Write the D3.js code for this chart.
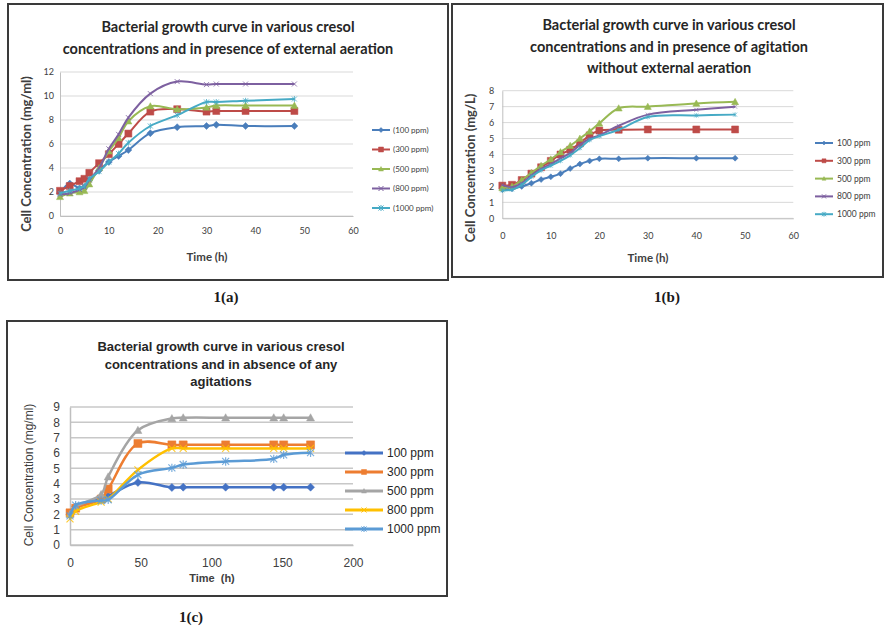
<!DOCTYPE html>
<html>
<head>
<meta charset="utf-8">
<script src="https://cdn.jsdelivr.net/npm/d3@7"></script>
<style>
  html, body { margin: 0; padding: 0; background: #fff; }
  svg { display: block; }
</style>
</head>
<body>
<svg id="fig" width="884" height="629"></svg>
<script>
// ---- Series labels ----
const seriesNamesAB = ["(100 ppm)", "(300 ppm)", "(500 ppm)", "(800 ppm)", "(1000 ppm)"];
const seriesNamesB = ["100 ppm", "300 ppm", "500 ppm", "800 ppm", "1000 ppm"];
const seriesNamesC = ["100 ppm", "300 ppm", "500 ppm", "800 ppm", "1000 ppm"];

// ---- 1(a): external aeration ----
const timeA = [0, 2, 4, 5, 6, 8, 10, 12, 14, 18.5, 24, 30, 32, 38, 48];
const a100 = [1.9, 2.7, 2.3, 2.4, 3.0, 3.8, 4.5, 5.0, 5.5, 6.9, 7.4, 7.5, 7.6, 7.5, 7.5];
const a300 = [2.1, 2.5, 2.9, 3.1, 3.6, 4.4, 5.15, 6.0, 6.87, 8.7, 8.9, 8.7, 8.75, 8.75, 8.75];
const a500 = [1.6, 1.9, 2.0, 2.1, 2.66, 4.0, 5.4, 6.5, 7.9, 9.15, 8.9, 9.05, 9.2, 9.2, 9.2];
const a800 = [1.8, 1.9, 2.2, 2.4, 3.0, 4.0, 5.6, 6.8, 8.2, 10.2, 11.2, 10.95, 11.0, 11.0, 11.0];
const a1000 = [1.9, 2.1, 2.3, 2.5, 3.1, 3.7, 4.5, 5.2, 6.1, 7.5, 8.4, 9.5, 9.5, 9.6, 9.75];
const yTicksA = [0, 2, 4, 6, 8, 10, 12];
const xTicksA = [0, 10, 20, 30, 40, 50, 60];

// ---- 1(b): agitation without external aeration ----
const timeB = [0, 2, 4, 6, 8, 10, 12, 14, 16, 18, 20, 24, 30, 40, 48];
const b100 = [1.8, 1.85, 2.0, 2.2, 2.43, 2.6, 2.8, 3.12, 3.4, 3.6, 3.73, 3.73, 3.77, 3.77, 3.77];
const b300 = [2.05, 2.1, 2.4, 2.8, 3.2, 3.6, 4.0, 4.3, 4.7, 5.2, 5.5, 5.55, 5.57, 5.57, 5.57];
const b500 = [1.9, 2.0, 2.4, 2.85, 3.3, 3.7, 4.15, 4.55, 5.0, 5.45, 5.95, 6.9, 7.0, 7.2, 7.3];
const b800 = [2.1, 1.95, 2.2, 2.7, 3.1, 3.4, 3.75, 4.1, 4.6, 5.0, 5.2, 5.8, 6.5, 6.8, 7.0];
const b1000 = [1.75, 1.8, 2.1, 2.6, 3.0, 3.3, 3.6, 3.95, 4.4, 4.9, 5.15, 5.55, 6.35, 6.45, 6.5];
const yTicksB = [0, 1, 2, 3, 4, 5, 6, 7, 8];
const xTicksB = [0, 10, 20, 30, 40, 50, 60];

// ---- 1(c): no agitation ----
const timeC = [0, 4, 22, 27, 48, 72, 80, 110, 144, 151, 170];
const c100 = [2.0, 2.5, 3.0, 3.2, 4.08, 3.75, 3.77, 3.77, 3.77, 3.77, 3.77];
const c300 = [2.1, 2.4, 3.0, 3.65, 6.62, 6.53, 6.53, 6.53, 6.53, 6.53, 6.53];
const c500 = [2.0, 2.5, 3.3, 4.45, 7.48, 8.25, 8.3, 8.3, 8.3, 8.3, 8.3];
const c800 = [1.7, 2.2, 2.8, 3.0, 4.9, 6.3, 6.3, 6.3, 6.3, 6.3, 6.3];
const c1000 = [1.9, 2.6, 2.9, 2.95, 4.58, 5.03, 5.25, 5.45, 5.62, 5.88, 6.02];
const yTicksC = [0, 1, 2, 3, 4, 5, 6, 7, 8, 9];
const xTicksC = [0, 50, 100, 150, 200];

const svg = d3.select("#fig");

const paletteOld = ["#4A7EBB", "#BE4B48", "#98B954", "#7D60A0", "#46AAC5"];
const paletteNew = ["#4472C4", "#ED7D31", "#A5A5A5", "#FFC000", "#5B9BD5"];
const shapes = ["diamond", "square", "triangle", "x", "star"];

function symbolPath(shape, size) {
  const s = size / 2;
  switch (shape) {
    case "diamond": return `M0,${-s}L${s},0L0,${s}L${-s},0Z`;
    case "square": return `M${-s},${-s}H${s}V${s}H${-s}Z`;
    case "triangle": return `M0,${-s}L${s},${s * 0.8}L${-s},${s * 0.8}Z`;
    case "x": return `M${-s},${-s}L${s},${s}M${-s},${s}L${s},${-s}`;
    case "star": return `M${-s},${-s}L${s},${s}M${-s},${s}L${s},${-s}M0,${-s * 1.2}V${s * 1.2}`;
  }
}

function drawPanel(cfg) {
  const g = svg.append("g");
  // frame
  g.append("rect")
    .attr("x", cfg.frame[0]).attr("y", cfg.frame[1])
    .attr("width", cfg.frame[2] - cfg.frame[0]).attr("height", cfg.frame[3] - cfg.frame[1])
    .attr("fill", "#fff").attr("stroke", "#3a3a3a").attr("stroke-width", 2);

  const x = d3.scaleLinear().domain(cfg.xDomain).range([cfg.plot[0], cfg.plot[2]]);
  const y = d3.scaleLinear().domain(cfg.yDomain).range([cfg.plot[3], cfg.plot[1]]);

  // gridlines
  g.append("g").selectAll("line").data(cfg.yTicks).join("line")
    .attr("x1", cfg.plot[0]).attr("x2", cfg.plot[2])
    .attr("y1", d => y(d)).attr("y2", d => y(d))
    .attr("stroke", cfg.gridColor).attr("stroke-width", cfg.gridWidth);

  // axes
  const yAxis = g.append("g").attr("transform", `translate(${cfg.plot[0]},0)`)
    .call(d3.axisLeft(y).tickValues(cfg.yTicks).tickSize(0).tickPadding(cfg.yPad));
  yAxis.select(".domain").attr("stroke", cfg.axisColor).attr("stroke-width", cfg.gridWidth);
  yAxis.selectAll("text").attr("font-family", cfg.font).attr("font-size", cfg.tickSize)
    .attr("fill", cfg.tickColor).attr("font-weight", cfg.tickWeight);

  const xAxis = g.append("g").attr("transform", `translate(0,${cfg.plot[3]})`)
    .call(d3.axisBottom(x).tickValues(cfg.xTicks).tickSize(0).tickPadding(cfg.xPad));
  xAxis.select(".domain").attr("stroke", cfg.axisColor).attr("stroke-width", cfg.gridWidth);
  xAxis.selectAll("text").attr("font-family", cfg.font).attr("font-size", cfg.tickSize)
    .attr("fill", cfg.tickColor).attr("font-weight", cfg.tickWeight);

  // title
  const t = g.append("text").attr("font-family", cfg.font).attr("font-size", cfg.titleSize)
    .attr("font-weight", "bold").attr("fill", "#262626").attr("text-anchor", "middle");
  cfg.title.forEach((line, i) => {
    t.append("tspan").attr("x", cfg.titleX).attr("y", cfg.titleY + i * cfg.titleGap).text(line);
  });

  // axis titles
  g.append("text").attr("x", cfg.xTitle[0]).attr("y", cfg.xTitle[1])
    .attr("text-anchor", "middle").attr("font-family", cfg.font)
    .attr("font-size", cfg.axisTitleSize).attr("font-weight", "bold").attr("fill", cfg.axisTitleColor)
    .attr("word-spacing", cfg.xTitleSpacing || 0)
    .text("Time (h)");
  g.append("text")
    .attr("transform", `translate(${cfg.yTitle[0]},${cfg.yTitle[1]}) rotate(-90)`)
    .attr("text-anchor", "middle").attr("font-family", cfg.font)
    .attr("font-size", cfg.yTitleSize).attr("font-weight", cfg.yTitleWeight).attr("fill", cfg.axisTitleColor)
    .text(cfg.yLabel);

  // series
  const line = d3.line().x(d => x(d[0])).y(d => y(d[1])).curve(d3.curveCatmullRom.alpha(0.5));
  cfg.series.forEach((vals, i) => {
    const pts = cfg.time.map((tv, k) => [tv, vals[k]]);
    const col = cfg.colors[i];
    g.append("path").datum(pts).attr("d", line)
      .attr("fill", "none").attr("stroke", col).attr("stroke-width", cfg.lineWidth);
    const shape = shapes[i];
    const stroked = shape === "x" || shape === "star";
    g.append("g").selectAll("path").data(pts).join("path")
      .attr("transform", d => `translate(${x(d[0])},${y(d[1])})`)
      .attr("d", symbolPath(shape, cfg.markerSize[i]))
      .attr("fill", stroked ? "none" : col)
      .attr("stroke", col).attr("stroke-width", stroked ? cfg.markerStroke : 0.5)
      .attr("opacity", stroked ? 0.8 : 1);

    // legend entry
    const ly = cfg.legend.y0 + i * cfg.legend.dy;
    g.append("line").attr("x1", cfg.legend.x0).attr("x2", cfg.legend.x1)
      .attr("y1", ly).attr("y2", ly).attr("stroke", col).attr("stroke-width", cfg.legend.lw);
    g.append("path")
      .attr("transform", `translate(${(cfg.legend.x0 + cfg.legend.x1) / 2},${ly})`)
      .attr("d", symbolPath(shape, cfg.legend.ms))
      .attr("fill", stroked ? "none" : col).attr("stroke", col).attr("stroke-width", stroked ? 1 : 0.5);
    g.append("text").attr("x", cfg.legend.tx).attr("y", ly).attr("dy", "0.35em")
      .attr("font-family", cfg.font).attr("font-size", cfg.legend.fs)
      .attr("font-weight", cfg.legend.fw).attr("fill", cfg.legend.color)
      .text(cfg.names[i]);
  });
}

drawPanel({
  frame: [8, 4, 448, 280],
  plot: [60, 72, 353, 216],
  xDomain: [0, 60], yDomain: [0, 12],
  xTicks: xTicksA, yTicks: yTicksA,
  gridColor: "#d9d9d9", axisColor: "#bfbfbf", gridWidth: 1,
  font: "Lato", tickSize: 9, tickColor: "#404040", tickWeight: "normal", yPad: 6, xPad: 12,
  title: ["Bacterial growth curve in various cresol", "concentrations and in presence of external aeration"],
  titleX: 228, titleY: 32, titleGap: 22, titleSize: 14.5,
  xTitle: [207, 261], yTitle: [31, 154], axisTitleSize: 11.5, yTitleSize: 13, axisTitleColor: "#404040",
  yTitleWeight: "bold",
  yLabel: "Cell  Concentration (mg/ml)",
  time: timeA, series: [a100, a300, a500, a800, a1000],
  colors: paletteOld, lineWidth: 2, markerSize: [7, 7, 7, 5, 5], markerStroke: 1,
  names: seriesNamesAB,
  legend: { x0: 372, x1: 390, tx: 393, y0: 130, dy: 19.5, lw: 2, ms: 5, fs: 8, fw: "normal", color: "#404040" }
});

drawPanel({
  frame: [452, 4, 883, 277],
  plot: [502.3, 90.7, 793.3, 218.3],
  xDomain: [0, 60], yDomain: [0, 8],
  xTicks: xTicksB, yTicks: yTicksB,
  gridColor: "#d9d9d9", axisColor: "#bfbfbf", gridWidth: 1,
  font: "Lato", tickSize: 9, tickColor: "#404040", tickWeight: "normal", yPad: 8, xPad: 14,
  title: ["Bacterial growth curve in various cresol", "concentrations and in presence of agitation", "without external aeration"],
  titleX: 669, titleY: 30, titleGap: 21.5, titleSize: 14.5,
  xTitle: [648, 262], yTitle: [475, 168], axisTitleSize: 11.5, yTitleSize: 13, axisTitleColor: "#404040",
  yTitleWeight: "bold",
  yLabel: "Cell  Concentration (mg/L)",
  time: timeB, series: [b100, b300, b500, b800, b1000],
  colors: paletteOld, lineWidth: 2, markerSize: [6, 7, 7, 4, 4], markerStroke: 0.8,
  names: seriesNamesB,
  legend: { x0: 815, x1: 833, tx: 837, y0: 143, dy: 17.8, lw: 2, ms: 4, fs: 8.5, fw: "normal", color: "#404040" }
});

drawPanel({
  frame: [7, 321, 447, 596],
  plot: [70, 407, 353, 545],
  xDomain: [0, 200], yDomain: [0, 9],
  xTicks: xTicksC, yTicks: yTicksC,
  gridColor: "#c8c8c8", axisColor: "#bfbfbf", gridWidth: 1.5,
  font: "Liberation Sans", tickSize: 12, tickColor: "#404040", tickWeight: "normal", yPad: 10, xPad: 13,
  title: ["Bacterial growth curve in various cresol", "concentrations and in absence of any", "agitations"],
  titleX: 221, titleY: 351, titleGap: 17.5, titleSize: 13,
  xTitle: [212, 582], yTitle: [33, 475], axisTitleSize: 11, yTitleSize: 12, axisTitleColor: "#404040",
  yTitleWeight: "normal", xTitleSpacing: 3,
  yLabel: "Cell Concentration (mg/ml)",
  time: timeC, series: [c100, c300, c500, c800, c1000],
  colors: paletteNew, lineWidth: 2.5, markerSize: [8, 8, 8, 7, 7], markerStroke: 1.2,
  names: seriesNamesC,
  legend: { x0: 345, x1: 383, tx: 387, y0: 453, dy: 19, lw: 3, ms: 5, fs: 12, fw: "normal", color: "#262626" }
});

// Sub-figure labels
const subLabels = [["1(a)", 226, 302], ["1(b)", 667, 302], ["1(c)", 191, 622]];
svg.append("g").selectAll("text").data(subLabels).join("text")
  .attr("x", d => d[1]).attr("y", d => d[2]).attr("text-anchor", "middle")
  .attr("font-family", "Liberation Serif").attr("font-size", 15).attr("font-weight", "bold")
  .attr("fill", "#1a1a1a").text(d => d[0]);
</script>
</body>
</html>
